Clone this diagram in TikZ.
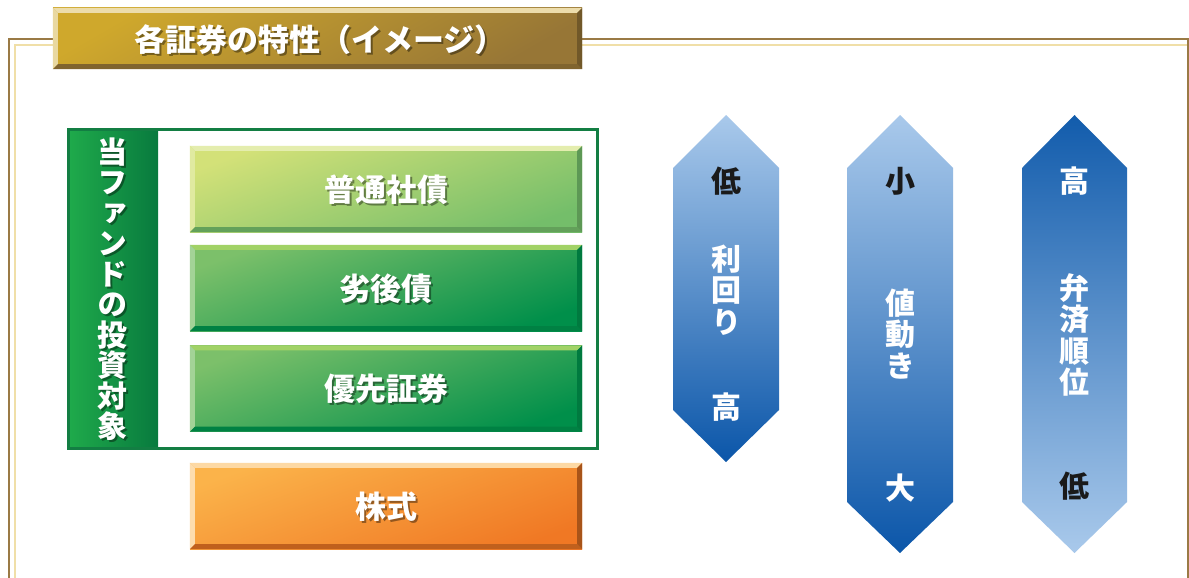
\documentclass[tikz,border=0pt]{standalone}
\usepackage{fontspec}
\setmainfont{Noto Sans CJK JP}
\newfontfamily\jpv{Noto Sans CJK JP}[RawFeature=+vert]
\usetikzlibrary{calc}
\definecolor{framebrown}{HTML}{9A7A45}
\definecolor{frameyellow}{HTML}{F0DFA8}
\definecolor{goldA}{HTML}{CFA82C}
\definecolor{goldB}{HTML}{977636}
\definecolor{gdark}{HTML}{137E43}
\definecolor{stripA}{HTML}{1FAA4B}
\definecolor{stripB}{HTML}{087A3E}
\definecolor{lgA}{HTML}{D3E178}
\definecolor{lgB}{HTML}{74BE6A}
\definecolor{mgA}{HTML}{7CC06A}
\definecolor{mgB}{HTML}{008F4A}
\definecolor{orA}{HTML}{FBB34A}
\definecolor{orB}{HTML}{F07824}
\definecolor{hexL}{HTML}{A9C9EB}
\definecolor{hexD}{HTML}{0B56A9}
\definecolor{hexD3}{HTML}{125CAC}
\definecolor{darktxt}{HTML}{1A1A1A}
\newcommand\bevel[5]{%
  \fill[#2] (#1.north west) -- (#1.north east) -- ($(#1.north east)+(-5,5)$) -- ($(#1.north west)+(5,5)$) -- cycle;
  \fill[#3] (#1.north west) -- ($(#1.north west)+(5,5)$) -- ($(#1.south west)+(5,-5)$) -- (#1.south west) -- cycle;
  \fill[#5] (#1.south west) -- (#1.south east) -- ($(#1.south east)+(-5,-5)$) -- ($(#1.south west)+(5,-5)$) -- cycle;
  \fill[#4] (#1.north east) -- (#1.south east) -- ($(#1.south east)+(-5,-5)$) -- ($(#1.north east)+(-5,5)$) -- cycle;
}
\newcommand\stxt[4]{% style, name, position, text
  \node[#1, text=black, opacity=0.4] at ($#3+(2,2)$) {#4};
  \node[#1, text=white] (#2) at #3 {#4};
}
\begin{document}
\begin{tikzpicture}[x=1pt,y=-1pt,
  txt/.style={font=\fontsize{31}{31}\selectfont\bfseries, inner sep=0pt},
  vtxt/.style={align=center, inner sep=0pt, font=\fontsize{30}{30.5}\selectfont\bfseries\jpv},
  htxt/.style={align=center, inner sep=0pt, font=\fontsize{30}{31.5}\selectfont\bfseries\jpv},
  rbox/.style={minimum width=392pt, minimum height=86pt, inner sep=0pt, draw=none}]
\useasboundingbox (0,0) rectangle (1189,578);
\fill[white] (0,0) rectangle (1189,578);
% frame
\draw[framebrown, line width=2pt] (8.5,580) -- (8.5,39) -- (1187.5,39) -- (1187.5,580);
\draw[frameyellow, line width=2pt] (14.5,580) -- (14.5,45.5) -- (1186.5,45.5);
% title
\node[minimum width=529pt, minimum height=61pt, inner sep=0pt, top color=goldA, bottom color=goldB, shading angle=30] (title) at (317.5,38.5) {};
\bevel{title}{goldA!40!white}{goldA!45!white}{goldB!75!black}{goldB!85!black}
\stxt{txt}{titletxt}{(320,40)}{各証券の特性（イメージ）}
% green frame
\node[minimum width=529pt, minimum height=319pt, inner sep=0pt, fill=white] (fund) at (333,289) {};
\node[minimum width=89.5pt, minimum height=319pt, inner sep=0pt, left color=stripA, right color=stripB] (strip) at (113.25,289) {};
\draw[gdark, line width=3pt] (fund.north west) rectangle (fund.south east);
\stxt{vtxt}{striptxt}{(112,289)}{当\\フ\\ァ\\ン\\ド\\の\\投\\資\\対\\象}
% boxes
\node[rbox, top color=lgA, bottom color=lgB, shading angle=20] (b1) at (386,189) {};
\bevel{b1}{lgA!60!white}{lgA!70!white}{lgB!80!black}{lgB!85!black}
\stxt{txt}{t1}{(386,190)}{普通社債}
\node[rbox, top color=mgA, bottom color=mgB, shading angle=20] (b2) at (386,288) {};
\bevel{b2}{mgA!80!yellow!90!white}{mgA!70!white}{mgB!85!black}{mgB!90!black}
\stxt{txt}{t2}{(386,289)}{劣後債}
\node[rbox, top color=mgA, bottom color=mgB, shading angle=20] (b3) at (386,388.5) {};
\bevel{b3}{mgA!80!yellow!90!white}{mgA!70!white}{mgB!85!black}{mgB!90!black}
\stxt{txt}{t3}{(386,389)}{優先証券}
\node[rbox, top color=orA, bottom color=orB, shading angle=20] (b4) at (386,506) {};
\bevel{b4}{orA!50!white}{orA!45!white}{orB!70!black}{orB!80!black}
\stxt{txt}{t4}{(386,507)}{株式}
% hexagons
\shade[top color=hexL, bottom color=hexD] (726,115) -- (779,168) -- (779,410) -- (726,462) -- (673,410) -- (673,168) -- cycle;
\shade[top color=hexL, bottom color=hexD] (900,115) -- (953,168) -- (953,502) -- (900,553) -- (847,502) -- (847,168) -- cycle;
\shade[top color=hexD3, bottom color=hexL] (1074.5,115) -- (1127,168) -- (1127,502) -- (1074.5,553) -- (1022,502) -- (1022,168) -- cycle;
\node[htxt, text=darktxt] (h1a) at (726,181) {低};
\node[htxt, text=white] (h1b) at (726,290) {利\\回\\り};
\node[htxt, text=white] (h1c) at (726,407) {高};
\node[htxt, text=darktxt] (h2a) at (900,181) {小};
\node[htxt, text=white] (h2b) at (900,334) {値\\動\\き};
\node[htxt, text=white] (h2c) at (900,488) {大};
\node[htxt, text=white] (h3a) at (1074.5,181) {高};
\node[htxt, text=white] (h3b) at (1074.5,335) {弁\\済\\順\\位};
\node[htxt, text=darktxt] (h3c) at (1074.5,486) {低};
\end{tikzpicture}
\end{document}
